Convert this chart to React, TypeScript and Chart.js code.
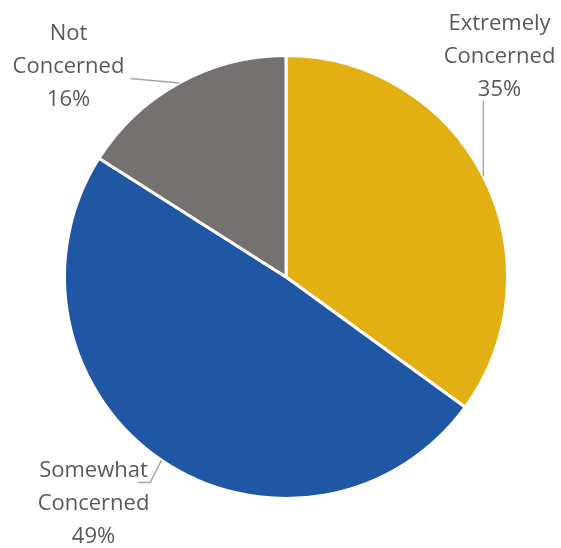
import React, { useEffect, useRef } from "react";
import { Chart, registerables } from "chart.js";

Chart.register(...registerables);

const categories: string[][] = [
  ["Extremely", "Concerned"],
  ["Somewhat", "Concerned"],
  ["Not", "Concerned"],
];
const values: number[] = [35, 49, 16];
const percentLabels: string[] = ["35%", "49%", "16%"];
const colors: string[] = ["#E2B013", "#1F57A5", "#767171"];

// Label layout in units of pie radius, relative to pie centre
// [labelCenterX, firstBaselineY, leader points (after the arc edge point)...]
const labelLayout = [
  { x: 0.964, y: -1.117, leader: [[null, -0.797]] as (number | null)[][] },
  { x: -0.869, y: 0.905, leader: [[-0.613, 0.928], [-0.667, 0.928]] as (number | null)[][] },
  { x: -0.982, y: -1.068, leader: [[-0.703, -0.896]] as (number | null)[][] },
];

const labelPlugin = {
  id: "outsideLabels",
  afterDraw(chart: any) {
    const ctx = chart.ctx;
    const meta = chart.getDatasetMeta(0);
    const lineH = 33;
    meta.data.forEach((arc: any, i: number) => {
      const { x: cx, y: cy, startAngle, endAngle, outerRadius } = arc.getProps(
        ["x", "y", "startAngle", "endAngle", "outerRadius"],
        true
      );
      const r = outerRadius;
      const mid = (startAngle + endAngle) / 2;
      const ex = cx + Math.cos(mid) * r;
      const ey = cy + Math.sin(mid) * r;
      const lay = labelLayout[i];
      ctx.save();
      ctx.strokeStyle = "#A6A6A6";
      ctx.lineWidth = 1.5;
      ctx.beginPath();
      ctx.moveTo(ex, ey);
      lay.leader.forEach((p) => {
        const px = p[0] === null ? ex : cx + (p[0] as number) * r;
        const py = p[1] === null ? ey : cy + (p[1] as number) * r;
        ctx.lineTo(px, py);
      });
      ctx.stroke();
      ctx.fillStyle = "#595959";
      ctx.font = "22px 'Open Sans'";
      ctx.textAlign = "center";
      ctx.textBaseline = "alphabetic";
      const lines = [...categories[i], percentLabels[i]];
      const lx = cx + lay.x * r;
      const ly = cy + lay.y * r;
      lines.forEach((t, k) => ctx.fillText(t, lx, ly + k * lineH));
      ctx.restore();
    });
  },
};

export default function App() {
  const ref = useRef<HTMLCanvasElement>(null);
  useEffect(() => {
    if (!ref.current) return;
    const chart = new Chart(ref.current, {
      type: "pie",
      data: {
        labels: categories.map((c) => c.join(" ")),
        datasets: [
          {
            data: values,
            backgroundColor: colors,
            borderColor: "#FFFFFF",
            borderWidth: 3,
          },
        ],
      },
      options: {
        animation: false,
        responsive: true,
        maintainAspectRatio: false,
        layout: { padding: { left: 63, right: 52, top: 54, bottom: 48 } },
        plugins: {
          legend: { display: false },
          tooltip: { enabled: false },
        },
      },
      plugins: [labelPlugin],
    });
    return () => chart.destroy();
  }, []);
  return (
    <div style={{ position: "absolute", left: 0, top: 0, width: 561, height: 548, background: "#fff" }}>
      <canvas ref={ref} />
    </div>
  );
}
